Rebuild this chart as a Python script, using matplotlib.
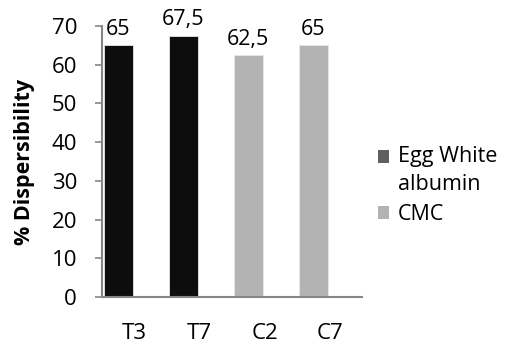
import matplotlib
matplotlib.use('Agg')
import matplotlib.pyplot as plt
from matplotlib.patches import Patch, Rectangle
from matplotlib.legend_handler import HandlerPatch

# dispersibility per sample
samples = ['T3', 'T7', 'C2', 'C7']
dispersibility = [65, 67.5, 62.5, 65]
value_labels = ['65', '67,5', '62,5', '65']
series = ['Egg White\nalbumin', 'Egg White\nalbumin', 'CMC', 'CMC']
series_names = ['Egg White\nalbumin', 'CMC']
bar_colors = {'Egg White\nalbumin': '#0d0d0d', 'CMC': '#b3b3b3'}
legend_colors = {'Egg White\nalbumin': '#5f5f5f', 'CMC': '#b3b3b3'}

plt.rcParams['font.family'] = ['Open Sans', 'DejaVu Sans']
plt.rcParams['font.size'] = 16

fig = plt.figure(figsize=(5.08, 3.49), dpi=100)
ax = fig.add_axes([0.2008, 0.149, 0.5118, 0.7765])

xs = [i - 0.25 for i in range(len(samples))]
cols = [bar_colors[s] for s in series]
bars = ax.bar(xs, dispersibility, width=0.446, color=cols, edgecolor='#e8e8e8', linewidth=0.6)

for b, lab in zip(bars, value_labels):
    ax.text(b.get_x() + b.get_width() / 2, b.get_height() + 1.4, lab,
            ha='center', va='bottom', fontsize=15.5)

ax.set_xlim(-0.5, 3.5)
ax.set_ylim(0, 70)
ax.set_yticks(range(0, 71, 10))
ax.set_xticks(range(len(samples)))
ax.set_xticklabels(samples)
ax.tick_params(axis='x', length=0, pad=19)
ax.tick_params(axis='y', length=5, width=1.2, color='#868686', pad=13, direction='out')

for side in ['top', 'right']:
    ax.spines[side].set_visible(False)
for side in ['left', 'bottom']:
    ax.spines[side].set_color('#868686')
    ax.spines[side].set_linewidth(1.5)

ax.set_ylabel('% Dispersibility', fontweight='bold', fontsize=15.5, labelpad=12)


def top_square(legend, orig_handle, xdescent, ydescent, width, height, fontsize):
    # keep the swatch level with the first line of a wrapped label
    return Rectangle((-xdescent, -ydescent + 10.5), width, height)


handles = [Patch(facecolor=legend_colors[n], edgecolor='none', label=n) for n in series_names]
leg = fig.legend(handles=handles, loc='center left', bbox_to_anchor=(0.705, 0.468),
                 frameon=False, fontsize=15.5, handlelength=0.55, handleheight=0.55,
                 handletextpad=0.4, labelspacing=0.4,
                 handler_map={handles[0]: HandlerPatch(patch_func=top_square)})
for t in leg.get_texts():
    t.set_linespacing(1.45)

fig.savefig('out.png', dpi=100)
